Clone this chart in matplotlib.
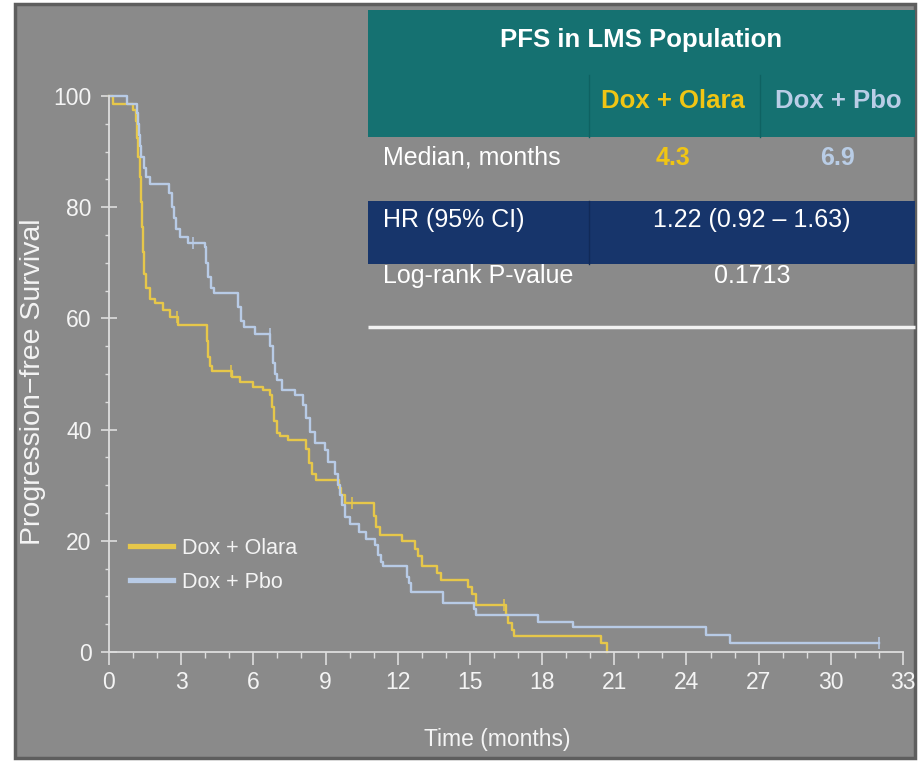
import matplotlib
matplotlib.use('Agg')
import matplotlib.pyplot as plt
from matplotlib.patches import Rectangle
from matplotlib.ticker import MultipleLocator
from matplotlib.lines import Line2D
import numpy as np

plt.rcParams['font.family'] = ['Liberation Sans', 'DejaVu Sans']

# Kaplan-Meier steps (months, % PFS)
olara_t = [0, 0.17, 0.98, 1.12, 1.18, 1.22, 1.27, 1.32, 1.36, 1.40,
           1.45, 1.55, 1.70, 1.90, 2.26, 2.53, 2.88, 4.06, 4.12, 4.20,
           4.30, 5.10, 5.44, 6.00, 6.40, 6.70, 6.78, 6.85, 6.97, 7.10,
           7.45, 8.20, 8.30, 8.45, 8.60, 9.55, 9.65, 9.80, 11.00, 11.10,
           11.26, 12.16, 12.70, 12.85, 13.00, 13.65, 13.80, 14.90, 15.10, 15.25,
           16.50, 16.60, 16.75, 16.85, 20.45, 20.70]
olara_s = [100, 98.5, 97.5, 95.5, 92.5, 89, 85.5, 81, 76.5, 72,
           68, 65.5, 63.5, 62.8, 61.5, 60.3, 58.8, 56.0, 53.0, 51.5,
           50.6, 49.5, 48.6, 47.7, 47.1, 46.2, 44.0, 41.5, 39.4, 38.8,
           38.1, 36.5, 34.0, 32.0, 30.9, 29.5, 28.2, 26.8, 24.5, 22.5,
           21.0, 19.9, 18.5, 17.2, 15.4, 14.2, 13.0, 11.7, 10.5, 8.5,
           6.6, 5.3, 3.9, 2.9, 1.6, 0]
olara_cens = [2.81, 5.05, 10.08, 16.40]

pbo_t = [0, 0.73, 1.15, 1.20, 1.25, 1.30, 1.35, 1.45, 1.55, 1.70,
         2.50, 2.60, 2.70, 2.80, 2.95, 3.30, 4.00, 4.05, 4.12, 4.25,
         4.35, 5.36, 5.50, 5.60, 6.07, 6.70, 6.80, 6.90, 7.00, 7.20,
         7.73, 8.07, 8.20, 8.35, 8.56, 8.98, 9.10, 9.40, 9.50, 9.60,
         9.70, 9.80, 10.00, 10.40, 10.70, 11.05, 11.20, 11.30, 11.40, 12.37,
         12.45, 12.55, 13.90, 15.15, 15.27, 17.84, 19.30, 24.80, 25.80, 32.00]
pbo_s = [100, 98.5, 97, 95, 93, 91, 89, 87, 85.5, 84.2,
         82.5, 80, 78, 76, 74.7, 73.5, 72.9, 70, 67.5, 65.5,
         64.5, 62, 59.5, 58.5, 57.2, 55, 52, 50, 48.9, 47.1,
         46.2, 44.5, 42, 39.5, 37.6, 36.3, 34.2, 32, 30, 28.2,
         26.5, 24.3, 23.1, 21.6, 20.4, 19.2, 17.5, 16.2, 15.4, 13.5,
         12.5, 10.8, 8.8, 7.7, 6.6, 5.45, 4.55, 3.06, 1.7, 1.7]
pbo_cens = [3.50, 6.69, 32.0]

series_names = ['Dox + Olara', 'Dox + Pbo']
x_ticks = list(range(0, 34, 3))
y_ticks = [0, 20, 40, 60, 80, 100]

table_title = 'PFS in LMS Population'
row_labels = ['Median, months', 'HR (95% CI)', 'Log-rank P-value']
medians = ['4.3', '6.9']
hr_text = '1.22 (0.92 \u2013 1.63)'
p_text = '0.1713'

c_olara = '#e6c74a'
c_pbo = '#b8cbe6'
c_olara_txt = '#f0c514'
c_pbo_txt = '#b9cde6'
bg_grey = '#8a8a8a'
teal = '#157171'
navy = '#17356b'

W, H = 920, 762
fig = plt.figure(figsize=(9.2, 7.62), dpi=100)
fig.patch.set_facecolor('white')

# background panel + table in pixel coordinates
bg = fig.add_axes([0, 0, 1, 1], zorder=0)
bg.set_xlim(0, W)
bg.set_ylim(H, 0)
bg.axis('off')
bg.add_patch(Rectangle((15, 4), 900, 754, facecolor=bg_grey, edgecolor='#5e5e5e', lw=2.5))

bg.add_patch(Rectangle((368, 10), 547, 127, facecolor=teal, edgecolor='none'))
bg.add_patch(Rectangle((368, 201), 547, 63, facecolor=navy, edgecolor='none'))
bg.plot([589, 589], [75, 137], color='#0f6262', lw=1)
bg.plot([760, 760], [75, 137], color='#0f6262', lw=1)
bg.plot([589, 589], [201, 264], color='#112a58', lw=1)
bg.plot([368, 915], [327, 327], color='#f2f2f2', lw=2.5, solid_capstyle='butt')

bg.text(641, 40, table_title, color='white', fontsize=18.5, fontweight='bold', ha='center', va='center')
bg.text(673, 101, series_names[0], color=c_olara_txt, fontsize=18.5, fontweight='bold', ha='center', va='center')
bg.text(838, 101, series_names[1], color=c_pbo_txt, fontsize=18.5, fontweight='bold', ha='center', va='center')
for lbl, yy in zip(row_labels, [158, 220, 276]):
    bg.text(383, yy, lbl, color='white', fontsize=18, ha='left', va='center')
bg.text(673, 158, medians[0], color=c_olara_txt, fontsize=18, fontweight='bold', ha='center', va='center')
bg.text(838, 158, medians[1], color=c_pbo_txt, fontsize=18, fontweight='bold', ha='center', va='center')
bg.text(752, 220, hr_text, color='white', fontsize=18, ha='center', va='center')
bg.text(752, 276, p_text, color='white', fontsize=18, ha='center', va='center')

# KM plot
ax = fig.add_axes([109 / W, 1 - 652 / H, 794 / W, 556 / H], zorder=2)
ax.patch.set_alpha(0)


def step_at(ts, ss, t):
    i = np.searchsorted(ts, t, side='right') - 1
    return ss[i]


ax.step(olara_t, olara_s, where='post', color=c_olara, lw=1.7, clip_on=False)
ax.step(pbo_t, pbo_s, where='post', color=c_pbo, lw=1.7, clip_on=False)
ax.plot(olara_cens, [step_at(olara_t, olara_s, t) for t in olara_cens], ls='none',
        marker='|', ms=9, mew=1.1, color=c_olara, clip_on=False)
ax.plot(pbo_cens, [step_at(pbo_t, pbo_s, t) for t in pbo_cens], ls='none',
        marker='|', ms=9, mew=1.1, color=c_pbo, clip_on=False)

ax.set_xlim(0, 33)
ax.set_ylim(0, 100)
ax.set_xticks(x_ticks)
ax.set_yticks(y_ticks)
ax.xaxis.set_minor_locator(MultipleLocator(1))
ax.yaxis.set_minor_locator(MultipleLocator(5))
for s in ['top', 'right']:
    ax.spines[s].set_visible(False)
for s in ['left', 'bottom']:
    ax.spines[s].set_color('#dedede')
    ax.spines[s].set_linewidth(1.3)
ax.tick_params(axis='y', which='major', direction='inout', length=11, width=1.2,
               color='#dedede', labelcolor='#f4f4f4', labelsize=16.5, pad=7)
ax.tick_params(axis='y', which='minor', direction='out', length=3, width=1, color='#dedede')
ax.tick_params(axis='x', which='major', direction='out', length=9, width=1.2,
               color='#dedede', labelcolor='#f4f4f4', labelsize=16.5, pad=5)
ax.tick_params(axis='x', which='minor', direction='out', length=4.5, width=1, color='#dedede')

ax.set_ylabel('Progression\u2212free Survival', color='#f4f4f4', fontsize=20.5, va='center')
ax.yaxis.set_label_coords(-0.096, 0.486)
ax.set_xlabel('Time (months)', color='#f4f4f4', fontsize=16.5, va='center')
ax.xaxis.set_label_coords(0.489, -0.158)

handles = [Line2D([], [], color=c_olara, lw=3.8), Line2D([], [], color=c_pbo, lw=3.8)]
leg = ax.legend(handles, series_names, loc='center left', bbox_to_anchor=(0.026, 0.156),
                frameon=False, fontsize=15.5, handlelength=2.0, handletextpad=0.45,
                labelspacing=0.6, borderpad=0, borderaxespad=0)
for t in leg.get_texts():
    t.set_color('#f4f4f4')

fig.savefig('out.png', dpi=100, facecolor=fig.get_facecolor())
